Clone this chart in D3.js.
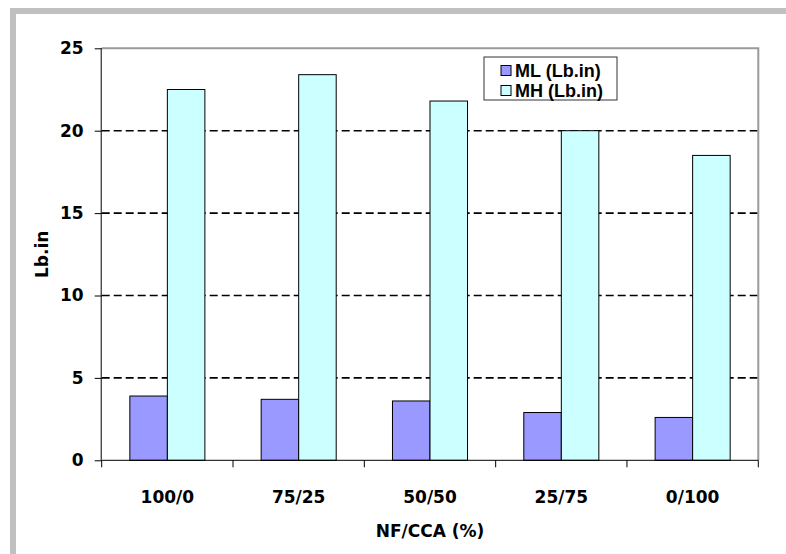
<!DOCTYPE html>
<html>
<head>
<meta charset="utf-8">
<script src="https://cdn.jsdelivr.net/npm/d3@7"></script>
<style>
  html, body { margin: 0; padding: 0; background: #fff; }
  svg { display: block; }
</style>
</head>
<body>
<script>
// Torque values (Lb.in) for each NF/CCA blend ratio
const categories = ["100/0", "75/25", "50/50", "25/75", "0/100"];
const seriesNames = ["ML (Lb.in)", "MH (Lb.in)"];
const mlValues = [3.9, 3.7, 3.6, 2.9, 2.6];
const mhValues = [22.5, 23.4, 21.8, 20.0, 18.5];
const yTicks = [0, 5, 10, 15, 20, 25];
const colors = ["#9999FF", "#CCFFFF"];

const W = 786, H = 554;
const plot = { left: 101.7, right: 758.3, top: 48.3, bottom: 460.3 };

const svg = d3.select("body").append("svg")
  .attr("width", W).attr("height", H);

// outer frame (top and left edges)
svg.append("rect").attr("x", 10).attr("y", 8).attr("width", W - 10).attr("height", 6).attr("fill", "#c0c0c0");
svg.append("rect").attr("x", 10).attr("y", 8).attr("width", 6).attr("height", H - 8).attr("fill", "#c0c0c0");

const y = d3.scaleLinear().domain([0, 25]).range([plot.bottom, plot.top]);
const x0 = d3.scaleBand().domain(categories).range([plot.left, plot.right]).padding(0);
const x1 = d3.scaleBand().domain(seriesNames).range([0, x0.bandwidth()]).paddingInner(0).paddingOuter(0.75);

const tickFont = "'DejaVu Sans', Verdana, sans-serif";

// dashed gridlines
svg.append("g").selectAll("line")
  .data(yTicks.filter(t => t > 0 && t < 25))
  .join("line")
  .attr("x1", plot.left).attr("x2", plot.right)
  .attr("y1", d => y(d)).attr("y2", d => y(d))
  .attr("stroke", "#000").attr("stroke-width", 1.6)
  .attr("stroke-dasharray", "8,4");

// plot area border (top and right)
svg.append("path")
  .attr("d", `M${plot.left},${plot.top}H${plot.right}V${plot.bottom}`)
  .attr("fill", "none").attr("stroke", "#9a9a9a").attr("stroke-width", 2);

// bars
const rows = categories.map((c, i) => ({ cat: c, vals: [mlValues[i], mhValues[i]] }));
const groups = svg.append("g").selectAll("g")
  .data(rows).join("g")
  .attr("transform", d => `translate(${x0(d.cat)},0)`);
groups.selectAll("rect")
  .data(d => d.vals.map((v, k) => ({ name: seriesNames[k], v, k })))
  .join("rect")
  .attr("x", d => x1(d.name))
  .attr("width", x1.bandwidth())
  .attr("y", d => y(d.v))
  .attr("height", d => y(0) - y(d.v))
  .attr("fill", d => colors[d.k])
  .attr("stroke", "#000").attr("stroke-width", 1);

// y axis
const yAxis = d3.axisLeft(y).tickValues(yTicks).tickSize(7).tickPadding(11).tickFormat(d3.format("d"));
const gy = svg.append("g").attr("transform", `translate(${plot.left},0)`).call(yAxis);
gy.select(".domain").attr("stroke", "#000").attr("d", `M-0.5,${plot.top}V${plot.bottom}`);
gy.selectAll(".tick line").attr("stroke", "#000");
gy.selectAll("text").attr("font-family", tickFont).attr("font-weight", "bold")
  .attr("font-size", 17).attr("fill", "#000");

// x axis with ticks between categories
const gx = svg.append("g").attr("transform", `translate(0,${plot.bottom})`);
gx.append("line").attr("x1", plot.left).attr("x2", plot.right).attr("y1", 0).attr("y2", 0)
  .attr("stroke", "#000");
const boundaries = categories.map(c => x0(c)).concat([plot.right]);
gx.selectAll(".bt").data(boundaries).join("line").attr("class", "bt")
  .attr("x1", d => d).attr("x2", d => d).attr("y1", 0).attr("y2", 7)
  .attr("stroke", "#000");
gx.selectAll(".cl").data(categories).join("text").attr("class", "cl")
  .attr("x", d => x0(d) + x0.bandwidth() / 2)
  .attr("y", 43)
  .attr("text-anchor", "middle")
  .attr("font-family", tickFont).attr("font-weight", "bold").attr("font-size", 17)
  .text(d => d);

// axis titles
svg.append("text")
  .attr("transform", `translate(48,${(plot.top + plot.bottom) / 2}) rotate(-90)`)
  .attr("text-anchor", "middle")
  .attr("font-family", tickFont).attr("font-weight", "bold").attr("font-size", 17)
  .text("Lb.in");
svg.append("text")
  .attr("x", (plot.left + plot.right) / 2).attr("y", 537)
  .attr("text-anchor", "middle")
  .attr("font-family", tickFont).attr("font-weight", "bold").attr("font-size", 17)
  .text("NF/CCA (%)");

// legend
const legend = svg.append("g").attr("transform", "translate(484,57)");
legend.append("rect").attr("width", 133).attr("height", 43)
  .attr("fill", "#fff").attr("stroke", "#333").attr("stroke-width", 1);
const li = legend.selectAll(".li").data(seriesNames).join("g").attr("class", "li")
  .attr("transform", (d, i) => `translate(0,${13.5 + i * 20})`);
li.append("rect").attr("x", 17).attr("y", -5).attr("width", 10).attr("height", 10)
  .attr("fill", (d, i) => colors[i]).attr("stroke", "#000").attr("stroke-width", 1);
li.append("text").attr("x", 31).attr("y", 0).attr("dy", "0.36em")
  .attr("font-family", "'Liberation Sans', Arial, sans-serif").attr("font-weight", "bold")
  .attr("font-size", 18).text(d => d);
</script>
</body>
</html>
